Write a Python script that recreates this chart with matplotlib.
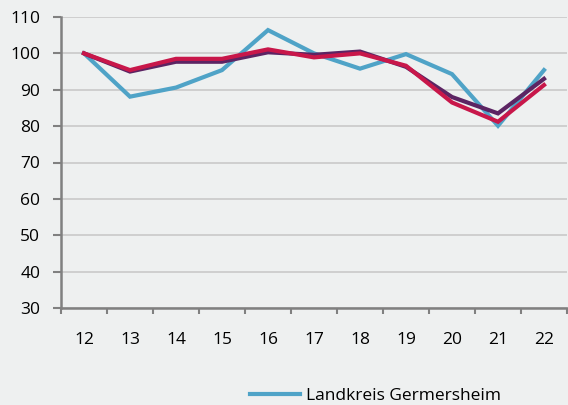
import matplotlib
matplotlib.use("Agg")
import matplotlib.pyplot as plt
from matplotlib.lines import Line2D

plt.rcParams["font.family"] = ["Open Sans", "DejaVu Sans"]

years = ["12", "13", "14", "15", "16", "17", "18", "19", "20", "21", "22"]
germersheim = [100, 88.1, 90.6, 95.4, 106.4, 100.0, 95.8, 99.8, 94.3, 80.1, 95.4]
purple_series = [100, 95.0, 97.7, 97.7, 100.3, 99.6, 100.5, 96.3, 88.0, 83.5, 93.0]
red_series = [100, 95.4, 98.5, 98.5, 101.1, 98.9, 100.0, 96.6, 86.5, 81.2, 91.3]
legend_label = "Landkreis Germersheim"
yticks = [30, 40, 50, 60, 70, 80, 90, 100, 110]

bg = "#eef0f0"
colors = ["#4fa3c7", "#5c2463", "#c8174a"]

fig = plt.figure(figsize=(5.68, 4.05), dpi=100, facecolor=bg)
ax = fig.add_axes([61 / 568, 1 - 308 / 405, (567 - 61) / 568, (308 - 17) / 405])
ax.set_facecolor(bg)

x = list(range(len(years)))
for series, c in zip([germersheim, purple_series, red_series], colors):
    ax.plot(x, series, color=c, lw=3, solid_joinstyle="miter", zorder=3)

ax.set_xlim(-0.5, len(years) - 0.5)
ax.set_ylim(30, 110)
ax.set_yticks(yticks)
ax.yaxis.grid(True, color="#c6c6c6", lw=1.1)
ax.set_axisbelow(True)

ax.set_xticks([i - 0.5 for i in range(len(years) + 1)])
ax.set_xticklabels([])
ax.set_xticks(x, minor=True)
ax.set_xticklabels(years, minor=True)
ax.tick_params(axis="x", which="major", length=4, width=1.5, color="#808080")
ax.tick_params(axis="x", which="minor", length=0, pad=17, labelsize=12.5)
ax.tick_params(axis="y", length=6, width=1.5, color="#808080", pad=9, labelsize=12.5)

for s in ["top", "right"]:
    ax.spines[s].set_visible(False)
for s in ["left", "bottom"]:
    ax.spines[s].set_color("#808080")
    ax.spines[s].set_linewidth(1.8)

handle = Line2D([], [], color=colors[0], lw=3)
fig.legend([handle], [legend_label], loc="upper left", bbox_to_anchor=(250 / 568, 1 - 388 / 405),
           frameon=False, fontsize=12.5, handlelength=2.9, handletextpad=0.3,
           borderaxespad=0, borderpad=0)

fig.savefig("out.png", dpi=100, facecolor=bg)
